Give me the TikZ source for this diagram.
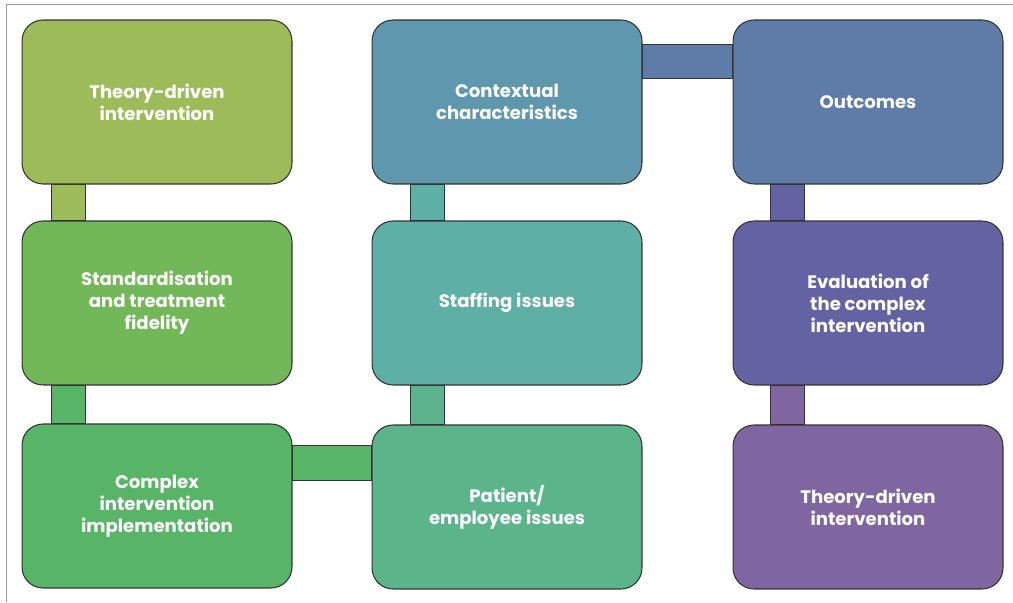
\documentclass[tikz,border=0pt]{standalone}
\usepackage{fontspec}
\setmainfont{Poppins}
\usetikzlibrary{calc}

\definecolor{olivegr}{HTML}{9DBB59}
\definecolor{leafgr}{HTML}{72B859}
\definecolor{grassgr}{HTML}{58B466}
\definecolor{steelbl}{HTML}{5F97AE}
\definecolor{tealgr}{HTML}{5EAFA5}
\definecolor{minty}{HTML}{5CB48A}
\definecolor{slatebl}{HTML}{5F7BA8}
\definecolor{indigo}{HTML}{6462A3}
\definecolor{plum}{HTML}{7F66A0}
\definecolor{edgegray}{HTML}{333333}

\tikzset{
  stage/.style={draw=edgegray, line width=0.6pt, rounded corners=0.42cm,
    minimum width=5.4cm, minimum height=3.28cm, align=center,
    text=white, font=\fontsize{10.3}{12.6}\selectfont\bfseries},
  bar/.style={draw=edgegray, line width=0.6pt, fill=#1}
}

\begin{document}
\begin{tikzpicture}[x=0.02cm,y=-0.02cm]
\useasboundingbox (0,0) rectangle (1013,602);
\draw[gray!80, line width=0.5pt] (1013,4) -- (6,4) -- (6,602);

\node[stage, fill=olivegr] (t1) at (157,102) {Theory-driven\\intervention};
\node[stage, fill=leafgr] (t2) at (157,303) {Standardisation\\and treatment\\fidelity};
\node[stage, fill=grassgr] (t3) at (157,506) {Complex\\intervention\\implementation};

\node[stage, fill=steelbl] (m1) at (507,102) {Contextual\\characteristics};
\node[stage, fill=tealgr] (m2) at (507,303) {Staffing issues};
\node[stage, fill=minty] (m3) at (507,507) {Patient/\\employee issues};

\node[stage, fill=slatebl] (r1) at (868,102) {Outcomes};
\node[stage, fill=indigo] (r2) at (868,303) {Evaluation of\\the complex\\intervention};
\node[stage, fill=plum] (r3) at (868,507) {Theory-driven\\intervention};

% links
\path[bar=olivegr] ($(t1.south west)+(30,0)$) rectangle ($(t2.north west)+(64,0)$);
\path[bar=grassgr] ($(t2.south west)+(30,0)$) rectangle ($(t3.north west)+(64,0)$);
\path[bar=grassgr] ($(t3.north east)+(0,22)$) rectangle ($(m3.north west)+(0,56)$);
\path[bar=tealgr] ($(m1.south west)+(39,0)$) rectangle ($(m2.north west)+(73,0)$);
\path[bar=minty!90!tealgr] ($(m2.south west)+(39,0)$) rectangle ($(m3.north west)+(73,0)$);
\path[bar=slatebl] ($(m1.north east)+(0,25)$) rectangle ($(r1.north west)+(0,59)$);
\path[bar=indigo] ($(r1.south west)+(38,0)$) rectangle ($(r2.north west)+(72,0)$);
\path[bar=plum] ($(r2.south west)+(38,0)$) rectangle ($(r3.north west)+(72,0)$);
\end{tikzpicture}
\end{document}
